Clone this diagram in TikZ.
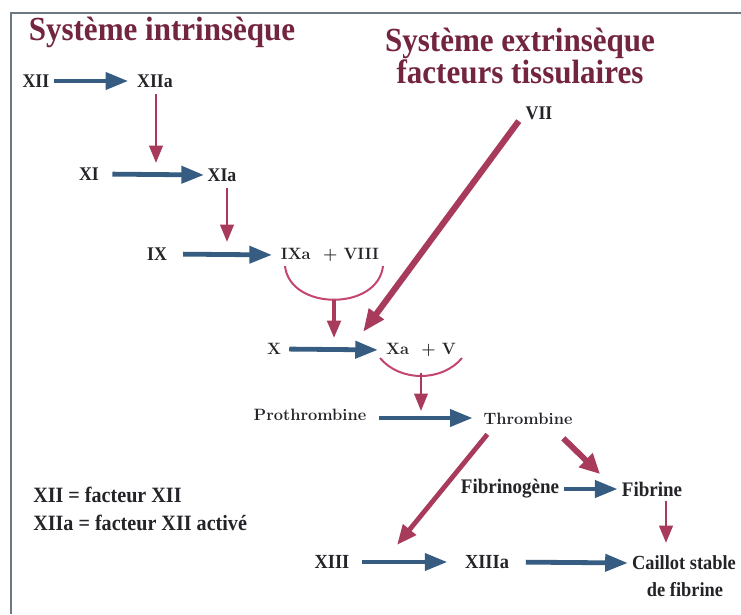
\documentclass[tikz,border=0pt]{standalone}
\usepackage{fontspec}
\newfontfamily\cond[FakeStretch=0.92]{Liberation Serif}
\usetikzlibrary{arrows.meta}
\definecolor{arblue}{RGB}{55,92,130}
\definecolor{arred}{RGB}{168,58,92}
\definecolor{arcred}{RGB}{196,70,110}
\definecolor{titlec}{RGB}{115,36,62}
\definecolor{framec}{RGB}{110,120,130}
\definecolor{txt}{RGB}{35,35,40}
\tikzset{
  lab/.style={inner sep=0pt, text=txt, font=\cond\bfseries\fontsize{14.5}{16}\selectfont},
  labm/.style={inner sep=0pt, text=txt, font=\cond\bfseries\fontsize{15}{17}\selectfont},
  labb/.style={inner sep=0pt, text=txt, font=\cond\bfseries\fontsize{15.5}{18}\selectfont},
  wide/.style={inner sep=0pt, text=txt, font=\bfseries\fontsize{12.3}{14}\selectfont},
  titl/.style={inner sep=0pt, text=titlec, align=center, font=\cond\bfseries\fontsize{25.3}{22.5}\selectfont},
  bluearrow/.style={draw=arblue, line width=3.6pt, -{Triangle[length=17pt,width=12.5pt]}},
  redarrow/.style={draw=arred, line width=2.2pt, -{Triangle[length=13pt,width=10pt]}},
  redthick/.style={draw=arred, line width=4.2pt, -{Triangle[length=15pt,width=12pt]}},
  arcline/.style={draw=arcred, line width=1.5pt},
}
\begin{document}
\begin{tikzpicture}[x=0.75pt,y=-0.75pt]
\useasboundingbox (0,0) rectangle (741,614);
\fill[white] (0,0) rectangle (741,614);
\draw[framec, line width=1.2pt] (11,614) -- (11,13) -- (741,13);

% titles
\node[titl] (t1) at (162,32) {Système intrinsèque};
\node[titl] (t2) at (520,56) {Système extrinsèque\\facteurs tissulaires};

% nodes
\node[lab] (xii) at (36,81) {XII};
\node[lab] (xiia) at (155,81) {XIIa};
\node[lab] (xi) at (89,174) {XI};
\node[lab] (xia) at (222,175) {XIa};
\node[lab] (ix) at (157,254) {IX};
\node[wide] (ixa) at (330,255) {IXa\ \ + VIII};
\node[lab] (vii) at (539,113) {VII};
\node[wide] (x) at (274,349) {X};
\node[wide] (xa) at (421,350) {Xa\ \ + V};
\node[wide] (pro) at (310,415) {Prothrombine};
\node[wide] (thr) at (528,419) {Thrombine};
\node[labb] (fbg) at (510,489) {Fibrinogène};
\node[labb] (fib) at (652,489) {Fibrine};
\node[labm] (xiii) at (332,562) {XIII};
\node[labm] (xiiia) at (487,562) {XIIIa};
\node[labm] (cai) at (684,563) {Caillot stable};
\node[labm] (cai2) at (685,590) {de fibrine};
\node[inner sep=0pt, text=txt, anchor=west, align=left, font=\cond\bfseries\fontsize{16.4}{21}\selectfont] (leg) at (33,509) {XII = facteur XII\\XIIa = facteur XII activé};

% target coordinates
\coordinate (t1a) at (156,163);
\coordinate (t2a) at (227,242);
\coordinate (a1) at (334,300);
\coordinate (t3a) at (334,338);
\coordinate (t4a) at (363,332);
\coordinate (a2) at (421,373);
\coordinate (t5a) at (421,411);
\coordinate (t6a) at (397,545);
\coordinate (t7a) at (600,474);
\coordinate (t8a) at (666,543);
\coordinate (pt) at (310,418);

% blue arrows
\draw[bluearrow, shorten <=3.5pt, shorten >=6.5pt] (xii.east) -- (xiia.west);
\draw[bluearrow, shorten <=10pt, shorten >=2.5pt] (xi.east) -- (xia.west);
\draw[bluearrow, shorten <=12pt, shorten >=6.5pt] (ix.east) -- (ixa.west);
\draw[bluearrow, shorten <=6pt, shorten >=6pt] (x.east) -- (xa.west);
\draw[bluearrow, shorten <=9.5pt, shorten >=8pt] (pro.east |- pt) -- (thr.west |- pt);
\draw[bluearrow, shorten <=3.5pt, shorten >=3pt] (fbg.east) -- (fib.west);
\draw[bluearrow, shorten <=9pt, shorten >=13pt] (xiii.east) -- (xiiia.west);
\draw[bluearrow, shorten <=12.5pt, shorten >=3pt] (xiiia.east) -- (cai.west);

% arcs
\draw[arcline] (285,266) .. controls (290,311) and (378,311) .. (383,266);
\draw[arcline] (380,358) .. controls (400,382) and (442,382) .. (462,358);

% red arrows
\draw[redarrow, shorten <=5pt] (xiia.south -| t1a) -- (t1a);
\draw[redarrow, shorten <=5pt] (xia.south -| t2a) -- (t2a);
\draw[redarrow, line width=2.8pt] (a1) -- (t3a);
\draw[redthick, line width=4.6pt, -{Triangle[length=17pt,width=13pt]}] ([xshift=-5pt,yshift=-1pt]vii.south west) -- (t4a);
\draw[redarrow, line width=1.8pt] (a2) -- (t5a);
\draw[redthick, line width=3.6pt] ([xshift=3pt,yshift=-7pt]thr.south west) -- (t6a);
\draw[redthick, line width=4.4pt, -{Triangle[length=15pt,width=14pt]}] ([xshift=-7pt,yshift=-10pt]thr.south east) -- (t7a);
\draw[redarrow, shorten <=3pt] (fib.south -| t8a) -- (t8a);
\end{tikzpicture}
\end{document}
